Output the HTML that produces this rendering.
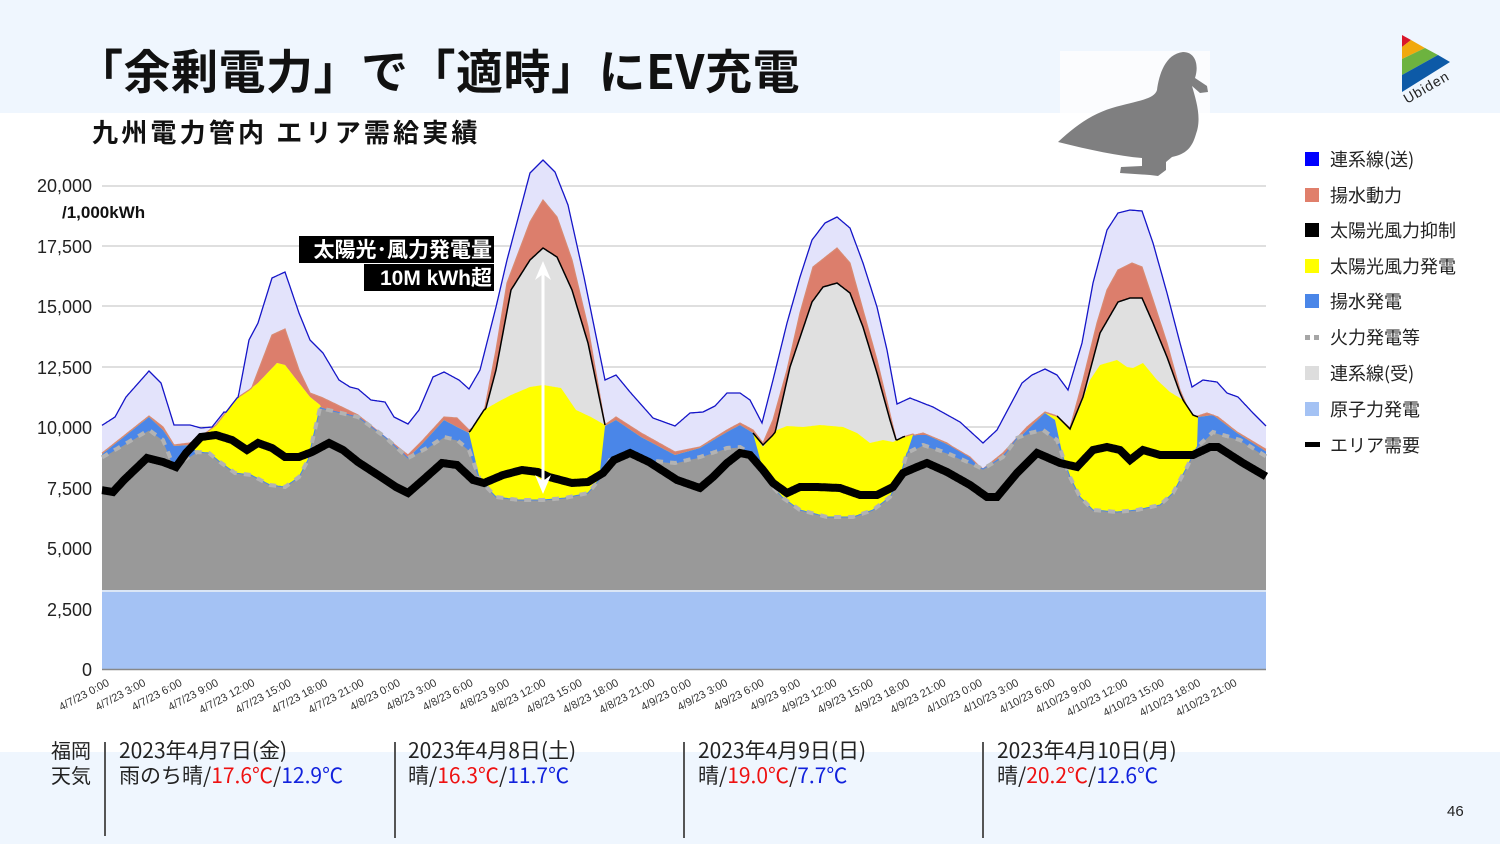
<!DOCTYPE html>
<html><head><meta charset="utf-8">
<style>
html,body{margin:0;padding:0;}
body{width:1500px;height:844px;position:relative;overflow:hidden;background:#fff;font-family:"Liberation Sans","Noto Sans CJK JP",sans-serif;}
svg{position:absolute;left:0;top:0;}
</style></head><body>
<svg id="s" width="1500" height="844" viewBox="0 0 1500 844" xmlns="http://www.w3.org/2000/svg" font-family="Liberation Sans, Noto Sans CJK JP, sans-serif">
<rect x="0" y="0" width="1500" height="113" fill="#eff6fe"/>
<rect x="0" y="752" width="1500" height="92" fill="#eff6fe"/>
<text x="76" y="89" font-size="47" font-weight="bold" fill="#111" font-family="Noto Sans CJK JP, sans-serif" letter-spacing="0.5">「余剰電力」で「適時」にEV充電</text>
<text x="92" y="142" font-size="26" font-weight="bold" fill="#111" font-family="Noto Sans CJK JP, sans-serif" letter-spacing="3.2">九州電力管内 エリア需給実績</text>
<!-- duck -->
<rect x="1060" y="51" width="150" height="62" fill="#fbfcfe"/>
<path d="M1183,52 C1196,52 1199,66 1195,78 L1207,86 L1208,92 L1200,93 L1192,86 C1196,100 1202,118 1196,134 C1192,148 1186,154 1172,157 L1166,162 L1166,170 L1158,176 L1150,175 L1120,173 L1121,167 L1142,166 L1142,158 C1118,156 1090,150 1058,142 C1075,126 1092,114 1112,108 C1135,101 1154,100 1157,90 C1159,75 1165,54 1183,52 Z" fill="#7f7f80"/>
<!-- logo -->
<polygon points="1402,35 1411,40 1402,47" fill="#d9162a"/>
<polygon points="1402,47 1411,40 1425,48 1402,59" fill="#f1a90d"/>
<polygon points="1402,59 1425,48 1438,55 1402,75" fill="#6db33f"/>
<polygon points="1402,75 1438,55 1450,62 1402,92" fill="#0d5aa7"/>
<text x="1407" y="104" font-size="14" fill="#222" transform="rotate(-30 1407 104)" letter-spacing="1">Ubiden</text>
<g id="grid" stroke="#cccccc" stroke-width="1.3"></g>
<g id="chart"></g>
<g font-size="18" fill="#222" text-anchor="end">
<text x="92" y="676">0</text><text x="92" y="616">2,500</text><text x="92" y="555">5,000</text><text x="92" y="495">7,500</text><text x="92" y="434">10,000</text><text x="92" y="374">12,500</text><text x="92" y="313">15,000</text><text x="92" y="253">17,500</text><text x="92" y="192">20,000</text>
</g>
<text x="62" y="218" font-size="17" font-weight="bold" fill="#111">/1,000kWh</text>
<g id="xl" font-size="11" fill="#333" text-anchor="end"></g>
<!-- annotation -->
<rect x="299" y="236" width="195" height="27" fill="#000"/>
<text x="492" y="257" font-size="21" font-weight="bold" fill="#fff" text-anchor="end" font-family="Noto Sans CJK JP, sans-serif">太陽光･風力発電量</text>
<rect x="364" y="264" width="130" height="27" fill="#000"/>
<text x="492" y="285" font-size="21" font-weight="bold" fill="#fff" text-anchor="end">10M kWh超</text>
<line x1="543" y1="270" x2="543" y2="484" stroke="#fff" stroke-width="3"/>
<polygon points="543,261 535,280 543,274 551,280" fill="#fff"/>
<polygon points="543,494 535,475 543,481 551,475" fill="#fff"/>
<!-- legend -->
<g font-size="18" fill="#222" font-family="Noto Sans CJK JP, sans-serif">
<rect x="1305" y="152" width="14" height="14" fill="#0000ff"/><text x="1330" y="166">連系線(送)</text>
<rect x="1305" y="188" width="14" height="14" fill="#e07f6b"/><text x="1330" y="202">揚水動力</text>
<rect x="1305" y="223" width="14" height="14" fill="#000"/><text x="1330" y="237">太陽光風力抑制</text>
<rect x="1305" y="259" width="14" height="14" fill="#ffff00"/><text x="1330" y="273">太陽光風力発電</text>
<rect x="1305" y="294" width="14" height="14" fill="#4a86e8"/><text x="1330" y="308">揚水発電</text>
<rect x="1305" y="335" width="5" height="5" fill="#a6a6a6"/><rect x="1314" y="335" width="5" height="5" fill="#a6a6a6"/><text x="1330" y="344">火力発電等</text>
<rect x="1305" y="366" width="14" height="14" fill="#dddddd"/><text x="1330" y="380">連系線(受)</text>
<rect x="1305" y="402" width="14" height="14" fill="#a4c2f4"/><text x="1330" y="416">原子力発電</text>
<rect x="1305" y="442" width="15" height="5" fill="#000"/><text x="1330" y="452">エリア需要</text>
</g>
<!-- weather -->
<g stroke="#555" stroke-width="2">
<line x1="105" y1="742" x2="105" y2="836"/><line x1="395" y1="742" x2="395" y2="838"/><line x1="684" y1="742" x2="684" y2="838"/><line x1="983" y1="742" x2="983" y2="838"/>
</g>
<g font-size="21" fill="#222" font-family="Noto Sans CJK JP, sans-serif">
<text x="51" y="758" font-size="20">福岡</text><text x="51" y="783" font-size="20">天気</text>
<text x="119" y="758">2023年4月7日(金)</text>
<text x="119" y="783">雨のち晴/<tspan fill="#ee1111">17.6℃</tspan>/<tspan fill="#1122dd">12.9℃</tspan></text>
<text x="408" y="758">2023年4月8日(土)</text>
<text x="408" y="783">晴/<tspan fill="#ee1111">16.3℃</tspan>/<tspan fill="#1122dd">11.7℃</tspan></text>
<text x="698" y="758">2023年4月9日(日)</text>
<text x="698" y="783">晴/<tspan fill="#ee1111">19.0℃</tspan>/<tspan fill="#1122dd">7.7℃</tspan></text>
<text x="997" y="758">2023年4月10日(月)</text>
<text x="997" y="783">晴/<tspan fill="#ee1111">20.2℃</tspan>/<tspan fill="#1122dd">12.6℃</tspan></text>
</g>
<text x="1447" y="816" font-size="15" fill="#222">46</text>
</svg>
<script>
var NS="http://www.w3.org/2000/svg";
function P(a){var r=[];for(var i=0;i<a.length;i+=2)r.push([a[i],a[i+1]]);return r;}
var T=P([101,426,115,417,126,397,149,371,161,383,174,425,190,425,201,428,212,427,224,412,235,414,249,340,258,323,272,278,285,272,299,313,310,340,323,353,339,380,350,387,358,389,371,400,385,402,394,417,408,424,419,410,433,377,444,372,459,380,469,389,480,370,496,307,507,260,530,173,543,160,555,172,568,205,584,277,605,380,616,375,630,392,653,418,675,426,690,413,703,412,715,406,727,393,740,393,750,400,762,423,773,380,787,323,800,277,812,240,825,223,837,217,850,228,863,263,877,307,887,350,897,404,910,398,933,407,960,422,983,443,997,430,1022,383,1032,375,1045,369,1057,375,1068,390,1082,343,1093,283,1107,230,1118,213,1130,210,1142,211,1153,243,1167,293,1180,343,1192,387,1203,380,1217,382,1227,393,1238,397,1253,413,1267,427]);
var O=P([101,454,149,416,163,427,174,445,190,443,212,432,224,425,235,423,249,395,272,335,285,329,299,370,310,393,323,398,358,415,385,437,408,455,423,440,444,417,457,418,469,430,482,423,496,350,507,283,530,222,543,200,557,217,572,260,588,327,605,425,616,417,641,433,675,452,700,447,727,430,740,423,753,430,763,443,773,420,787,370,800,313,813,267,837,248,850,263,863,310,877,360,897,443,907,437,923,433,947,443,967,457,983,469,1003,453,1027,427,1045,412,1057,416,1070,428,1083,380,1097,323,1107,290,1118,270,1132,263,1142,267,1153,300,1167,343,1180,390,1192,418,1207,413,1218,417,1237,432,1267,450]);
var G=P([101,458,149,430,163,440,174,467,184,460,197,452,209,453,220,462,235,473,251,475,270,485,285,487,299,477,308,460,320,408,358,417,385,437,408,458,427,448,444,437,457,440,469,450,480,480,496,497,519,500,543,500,565,498,588,493,599,480,610,460,628,452,645,460,675,463,700,457,727,448,740,447,753,455,763,470,773,487,783,498,800,510,827,517,853,517,873,510,890,497,900,477,907,453,923,445,947,453,970,463,983,469,1003,457,1017,438,1030,433,1043,430,1057,440,1063,457,1070,477,1080,497,1093,510,1117,512,1137,510,1160,505,1173,493,1187,467,1197,447,1213,432,1240,440,1267,457]);
var B=P([101,455,149,417,163,430,174,446,190,445,197,452,209,453,220,462,235,473,251,475,270,485,285,487,299,477,308,460,320,407,358,420,385,440,408,458,423,443,444,420,457,427,469,433,480,480,496,497,519,500,543,500,565,498,588,493,599,480,605,426,616,420,641,437,675,455,700,448,727,432,740,425,753,433,763,470,773,487,783,498,800,510,827,517,853,517,873,510,890,497,900,477,907,453,913,435,927,435,953,447,970,457,983,470,1003,455,1027,430,1045,413,1055,420,1063,457,1070,477,1080,497,1093,510,1117,512,1137,510,1160,505,1173,493,1187,467,1197,447,1198,417,1213,415,1237,433,1267,452]);
var Yr=[P([193,443,216,425,237,398,249,390,258,383,277,363,285,365,299,383,310,397,320,405]),
P([469,433,484,410,496,403,511,395,530,387,543,385,561,388,576,410,591,417,605,425]),
P([753,433,763,447,777,430,787,426,803,427,820,425,843,427,857,433,870,443,883,440,893,442,903,437,913,434]),
P([1045,413,1057,417,1070,430,1080,407,1090,380,1100,365,1117,360,1127,367,1133,368,1143,363,1157,380,1170,392,1183,400,1193,415,1198,417])];
var Kr=[P([469,432,482,423,496,370,511,290,530,260,543,248,557,257,572,290,588,343,605,425]),
P([753,433,763,445,775,433,790,367,812,302,823,287,837,283,850,293,863,327,877,373,890,420,897,443,905,437]),
P([1057,416,1070,429,1083,397,1100,333,1118,302,1130,298,1142,298,1153,323,1167,357,1180,393,1192,420,1198,417])];
var D=P([101,490,113,492,124,480,147,458,163,462,176,467,186,453,201,437,216,435,232,440,247,450,258,443,272,448,285,457,299,457,312,452,329,443,343,450,358,462,381,477,396,487,408,493,423,480,442,463,457,465,473,480,484,483,503,475,522,470,538,472,549,477,572,483,588,482,603,473,614,460,630,453,649,462,677,480,700,488,713,477,727,463,740,453,750,455,763,470,773,483,787,493,800,487,817,487,840,488,860,495,877,495,893,487,903,473,917,467,927,463,947,472,970,485,987,497,997,497,1017,473,1037,453,1060,463,1077,467,1093,450,1107,447,1120,450,1130,460,1143,450,1160,455,1193,455,1210,447,1218,447,1243,463,1267,477]);
function itp(a,x){if(x<=a[0][0])return a[0][1];for(var i=1;i<a.length;i++){if(x<=a[i][0]){var t=(x-a[i-1][0])/(a[i][0]-a[i-1][0]);return a[i-1][1]+t*(a[i][1]-a[i-1][1]);}}return a[a.length-1][1];}
function reg(rs,x){for(var i=0;i<rs.length;i++){var r=rs[i];if(x>=r[0][0]&&x<=r[r.length-1][0])return itp(r,x);}return null;}
var X0=102,X1=1266,xs=[];for(var x=X0;x<=X1;x++)xs.push(x);
var tv=[],ov=[],kv=[],yv=[],bv=[],gv=[];
xs.forEach(function(x){var b=itp(B,x),g=itp(G,x);var y=reg(Yr,x);if(y===null)y=b;y=Math.min(y,b);var k=reg(Kr,x);if(k===null)k=y;k=Math.min(k,y);var o=Math.min(itp(O,x),k);var t=Math.min(itp(T,x),o);tv.push(t);ov.push(o);kv.push(k);yv.push(y);bv.push(b);gv.push(g);});
var ch=document.getElementById("chart");
function el(n,a){var e=document.createElementNS(NS,n);for(var k in a)e.setAttribute(k,a[k]);ch.appendChild(e);return e;}
function area(v,base,fill){var d="M"+X0+","+base;for(var i=0;i<xs.length;i++)d+="L"+xs[i]+","+v[i].toFixed(1);d+="L"+X1+","+base+"Z";el("path",{d:d,fill:fill});}
function line(v,attrs){var d="";for(var i=0;i<xs.length;i++)d+=(i?"L":"M")+xs[i]+","+v[i].toFixed(1);attrs.d=d;attrs.fill="none";el("path",attrs);}
var gg=document.getElementById("grid");[186,246,306,367,427,488,548,609].forEach(function(y){var l=document.createElementNS(NS,"line");l.setAttribute("x1",102);l.setAttribute("x2",1266);l.setAttribute("y1",y);l.setAttribute("y2",y);gg.appendChild(l);});
area(tv,669,"#e3e3fb");
area(ov,669,"#dc7e6c");
area(kv,669,"#e0e0e0");
area(yv,669,"#ffff00");
area(bv,669,"#4a86e8");
line(ov,{stroke:"#d98a72","stroke-width":1.2});
area(gv,669,"#999999");
line(gv,{stroke:"#4a86e8","stroke-width":1});
line(gv,{stroke:"#b3b3b3","stroke-width":4,"stroke-dasharray":"7,7"});
el("rect",{x:102,y:591,width:1164,height:78,fill:"#a4c2f4"});
el("line",{x1:102,x2:1266,y1:591,y2:591,stroke:"#dbe6f5","stroke-width":2});
Kr.forEach(function(r){var d="";for(var x=r[0][0];x<=r[r.length-1][0];x++){var i=x-X0;if(i<0||i>=xs.length)continue;d+=(d?"L":"M")+x+","+kv[i].toFixed(1);}el("path",{d:d,fill:"none",stroke:"#000","stroke-width":1.5});});
line(tv,{stroke:"#1515c8","stroke-width":1.3});
line(xs.map(function(x){return itp(D,x);}),{stroke:"#000","stroke-width":8});
el("line",{x1:102,x2:1266,y1:669.5,y2:669.5,stroke:"#888","stroke-width":1.5});
var xl=document.getElementById("xl");
for(var h=0;h<32;h++){var d=7+Math.floor(h/8),hr=(h%8)*3;var x=102+h*3*12.125+8;var t=document.createElementNS(NS,"text");t.setAttribute("x",x);t.setAttribute("y",685);t.setAttribute("transform","rotate(-28 "+x+" 685)");t.textContent="4/"+d+"/23 "+hr+":00";xl.appendChild(t);}
</script>
</body></html>
